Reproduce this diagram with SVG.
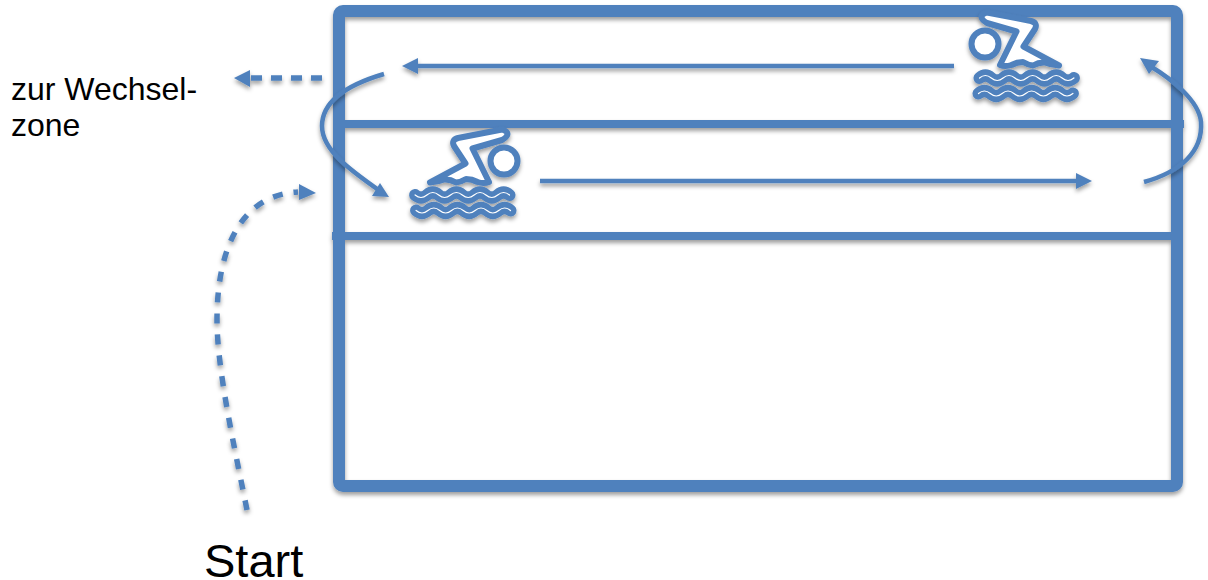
<svg xmlns="http://www.w3.org/2000/svg" width="1208" height="580" viewBox="0 0 1208 580">
<style>
.ln{fill:none;stroke:#4f81bd}
.hd{fill:#4f81bd}
.wv{fill:none;stroke:#4f81bd;stroke-width:12;stroke-linecap:round}
.wl{fill:none;stroke:#fff;stroke-width:1.200;stroke-linecap:round}
text{font-family:"Liberation Sans",Arial,sans-serif;fill:#000}
</style>
<defs>
<filter id="sl" filterUnits="userSpaceOnUse" x="-1300" y="-100" width="3800" height="800"><feDropShadow dx="0" dy="3" stdDeviation="2.2" flood-color="#000" flood-opacity="0.38"/></filter>
<path id="wave" d="M0,0q5.900,-5 11.800,0q5.900,5 11.800,0q5.900,-5 11.800,0q5.900,5 11.800,0q5.900,-5 11.800,0q5.900,5 11.800,0q5.900,-5 11.800,0q5.900,5 11.800,0"/>
<g id="swimmer">
<g filter="url(#sl)">
<circle cx="985" cy="44" r="13.500" fill="#fff" stroke="#4f81bd" stroke-width="6"/>
<path d="M987,12.500 L1031,21 Q1038,23 1035,29 L1023.500,46.500 L1059,65.500 Q1051,65 1045,62.500 Q1039,62 1033,65.500 Q1028,65 1023,62 Q1017,62 1011.500,65 Q1005,67 1000,65 L1016.500,31.500 L987,23 Q976,16 987,12.500Z" fill="#fff" stroke="#4f81bd" stroke-width="6" stroke-linejoin="round"/>
<use href="#wave" class="wv" x="979.500" y="78"/>
<use href="#wave" class="wv" x="978.500" y="93.500"/>
</g>
<use href="#wave" class="wl" x="979.500" y="78"/>
<use href="#wave" class="wl" x="978.500" y="93.500"/>
</g>
</defs>
<g id="pool" filter="url(#sl)">
<rect x="339" y="11" width="838" height="475" rx="4" class="ln" stroke-width="12"/>
<path d="M344,124H1184" class="ln" stroke-width="8"/>
<path d="M332,236H1172" class="ln" stroke-width="8"/>
</g>
<g id="swimmer-top"><use href="#swimmer"/></g>
<g id="swimmer-bottom"><use href="#swimmer" transform="translate(1489,117) scale(-1,1)"/></g>
<g id="connectors" filter="url(#sl)">
<path d="M954,66H414" class="ln" stroke-width="4.500"/><path d="M402,66L418,58V74Z" class="hd"/>
<path d="M540,181H1080" class="ln" stroke-width="4.500"/><path d="M1092,181L1076,173V189Z" class="hd"/>
<path d="M322,78H248" class="ln" stroke-width="5.500" stroke-dasharray="11 9"/><path d="M234,78L250,70V87Z" class="hd"/>
<path d="M1144,182C1180,172 1203,152 1201,122C1199,100 1170,78 1150,66" class="ln" stroke-width="4.500"/><path d="M1140,58L1159,61L1149,74Z" class="hd"/>
<path d="M384,74C350,84 322,100 322,126C322,150 350,170 380,191" class="ln" stroke-width="4.500"/><path d="M389,197L380,183L372,196Z" class="hd"/>
<path d="M247,510C235,450 217,370 217,320C217,250 240,195 298,192" class="ln" stroke-width="5.500" stroke-dasharray="10 11"/><path d="M316,193L299,184V200Z" class="hd"/>
</g>
<g id="labels">
<text x="11" y="100" font-size="32">zur Wechsel-</text>
<text x="11" y="136" font-size="32">zone</text>
<text x="204" y="577" font-size="47">Start</text>
</g>
</svg>
